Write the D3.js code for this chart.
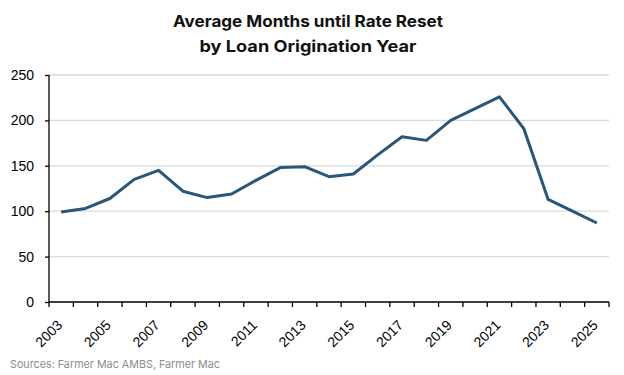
<!DOCTYPE html>
<html>
<head>
<meta charset="utf-8">
<script src="https://cdn.jsdelivr.net/npm/d3@7"></script>
<style>
  body { margin: 0; background: #fff; }
  svg { display: block; font-family: Inter, "Noto Sans", sans-serif; }
</style>
</head>
<body>
<div id="chart"></div>
<script>
// data
var years = d3.range(2003, 2026).map(String);
var months = [99, 103, 114, 135, 145, 122, 115, 119, 134, 148, 149, 138, 141, 162, 182, 178, 200, 213, 226, 191, 113, 100, 87];
var yTicks = [0, 50, 100, 150, 200, 250];
var titleLines = ["Average Months until Rate Reset", "by Loan Origination Year"];
var source = "Sources: Farmer Mac AMBS, Farmer Mac";

var width = 624, height = 375;
var margin = {top: 75, right: 15, bottom: 73, left: 49};

var svg = d3.select("#chart").append("svg")
    .attr("width", width)
    .attr("height", height);

var x = d3.scaleBand()
    .domain(years)
    .range([margin.left, width - margin.right]);

var y = d3.scaleLinear()
    .domain([0, 250])
    .range([height - margin.bottom, margin.top]);

// title, two lines, squeezed to the reference widths
var titleWidths = [270, 217];
svg.append("g")
    .selectAll("text")
    .data(titleLines)
    .enter().append("text")
    .attr("x", 308)
    .attr("y", function(d, i) { return 27 + i * 24.5; })
    .attr("text-anchor", "middle")
    .attr("textLength", function(d, i) { return titleWidths[i]; })
    .attr("lengthAdjust", "spacingAndGlyphs")
    .style("font-size", "16px")
    .style("font-weight", "bold")
    .style("fill", "#111")
    .text(function(d) { return d; });

// gridlines
svg.append("g")
    .selectAll("line")
    .data(yTicks.filter(function(d) { return d > 0; }))
    .enter().append("line")
    .attr("x1", margin.left)
    .attr("x2", width - margin.right)
    .attr("y1", function(d) { return y(d); })
    .attr("y2", function(d) { return y(d); })
    .style("stroke", "#d9d9d9")
    .style("stroke-width", 1.3);

// y axis
var yAxis = svg.append("g")
    .attr("transform", "translate(" + margin.left + ",0)")
    .call(d3.axisLeft(y).tickValues(yTicks).tickSize(4).tickPadding(11));
yAxis.selectAll("text")
    .style("font-size", "14px")
    .style("fill", "#000")
    .style("font-family", "'Liberation Sans', Arial, sans-serif");
yAxis.selectAll("line, path").style("stroke", "#000").style("stroke-width", 1.3);
yAxis.select(".domain").attr("d", "M0," + y(250) + "V" + y(0));

// x axis: ticks on band boundaries
var xg = svg.append("g")
    .attr("transform", "translate(0," + y(0) + ")");
xg.append("line")
    .attr("x1", margin.left)
    .attr("x2", width - margin.right)
    .style("stroke", "#000")
    .style("stroke-width", 1.3);
xg.selectAll(".tick")
    .data(years.concat(["end"]))
    .enter().append("line")
    .attr("x1", function(d, i) { return margin.left + i * x.step(); })
    .attr("x2", function(d, i) { return margin.left + i * x.step(); })
    .attr("y1", 0)
    .attr("y2", 5)
    .style("stroke", "#000")
    .style("stroke-width", 1.3);
xg.selectAll("text")
    .data(years.filter(function(d, i) { return i % 2 == 0; }))
    .enter().append("text")
    .attr("transform", function(d) {
      return "translate(" + (x(d) + x.bandwidth() / 2 + 2) + ",24) rotate(-45)";
    })
    .attr("text-anchor", "end")
    .style("font-size", "14px")
    .style("font-family", "'Liberation Sans', Arial, sans-serif")
    .text(function(d) { return d; });

// line
var line = d3.line()
    .x(function(d, i) { return x(years[i]) + x.bandwidth() / 2; })
    .y(function(d) { return y(d); });

svg.append("path")
    .datum(months)
    .attr("d", line)
    .style("fill", "none")
    .style("stroke", "#2a5679")
    .style("stroke-width", 3)
    .style("stroke-linejoin", "round");

// source note
svg.append("text")
    .attr("x", 10)
    .attr("y", 368)
    .attr("textLength", 210)
    .attr("lengthAdjust", "spacingAndGlyphs")
    .style("font-size", "11px")
    .style("fill", "#8c8c8c")
    .text(source);
</script>
</body>
</html>
